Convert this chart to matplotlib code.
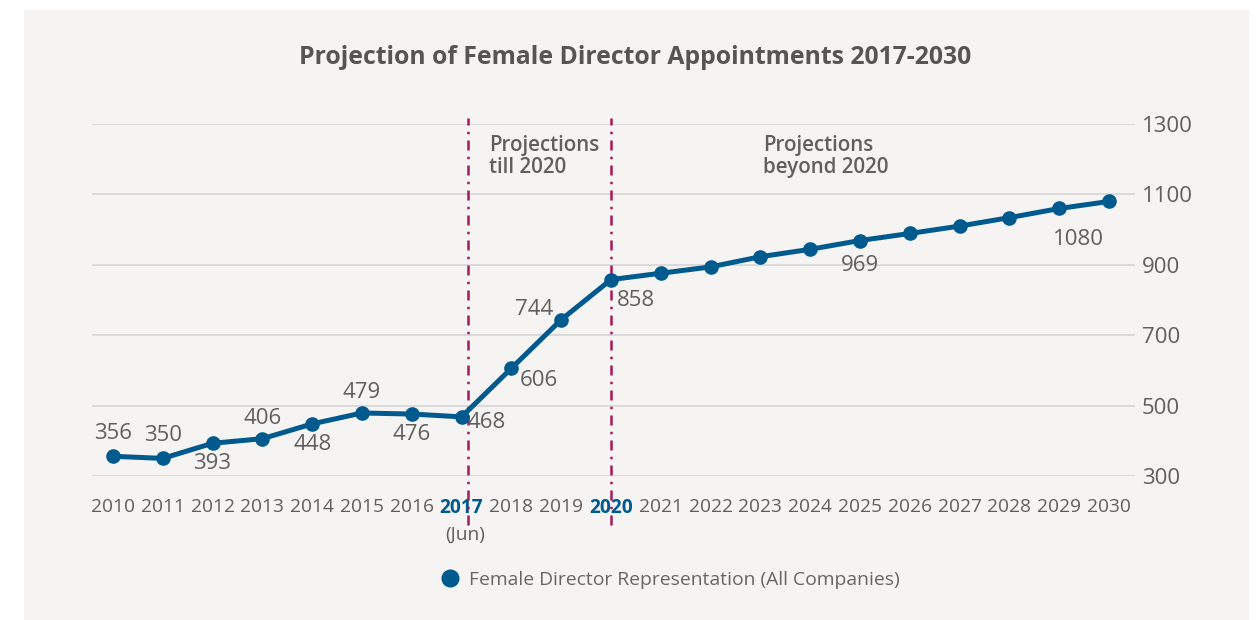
import numpy as np
import matplotlib.pyplot as plt
from matplotlib.patches import Rectangle
from matplotlib.lines import Line2D

plt.rcParams['font.family'] = ['Open Sans', 'DejaVu Sans']

years = [str(y) for y in range(2010, 2031)]
values = [356, 350, 393, 406, 448, 479, 476, 468, 606, 744, 858,
          876, 894, 923, 944, 969, 989, 1010, 1034, 1060, 1080]
yticks = [300, 500, 700, 900, 1100, 1300]

# which points get a label, and where (dx, dy in px, ha, va)
labels = {
    2010: (0, 12, 'center', 'bottom'),
    2011: (0, 12, 'center', 'bottom'),
    2012: (0, -10, 'center', 'top'),
    2013: (0, 10, 'center', 'bottom'),
    2014: (0, -10, 'center', 'top'),
    2015: (0, 10, 'center', 'bottom'),
    2016: (0, -10, 'center', 'top'),
    2017: (6, -6, 'left', 'center'),
    2018: (8, -2, 'left', 'top'),
    2019: (-8, 0, 'right', 'bottom'),
    2020: (6, -10, 'left', 'top'),
    2025: (0, -14, 'center', 'top'),
    2030: (-5, -28, 'right', 'top'),
}

BG = '#f5f4f2'
BLUE = '#005a8e'
MAG = '#a3195b'
TXT = '#5f5f5f'

fig = plt.figure(figsize=(12.58, 6.2), dpi=100)
fig.patches.append(Rectangle((24 / 1258, 0), (1249 - 24) / 1258, (620 - 10) / 620,
                             transform=fig.transFigure, facecolor=BG,
                             edgecolor='none', zorder=-5))

ax = fig.add_axes([92 / 1258, 1 - 476 / 620, (1135 - 92) / 1258, (476 - 124) / 620])
ax.set_facecolor('none')
ax.set_zorder(1)

x = np.arange(len(years))
ax.plot(x, values, color=BLUE, lw=3.6, marker='o', ms=9.5, zorder=3, clip_on=False)

for i, v in enumerate(values):
    yr = 2010 + i
    if yr in labels:
        dx, dy, ha, va = labels[yr]
        ax.annotate(str(v), (i, v), xytext=(dx, dy), textcoords='offset pixels',
                    ha=ha, va=va, fontsize=16, color=TXT)

for xv in [7.12, 10]:
    ax.axvline(xv, ymin=-0.14, ymax=1.017, color=MAG, lw=1.8,
               ls=(0, (4, 2.5, 1, 2.5)), clip_on=False, zorder=2)

ax.text(7.55, 1270, 'Projections\ntill 2020', fontsize=14.8, color=TXT,
        fontweight='semibold', va='top', ha='left', linespacing=1.1)
ax.text(13.05, 1270, 'Projections\nbeyond 2020', fontsize=14.8, color=TXT,
        fontweight='semibold', va='top', ha='left', linespacing=1.1)

ax.set_xlim(-0.42, 20.52)
ax.set_ylim(300, 1300)
ax.set_yticks(yticks)
ax.yaxis.tick_right()
ax.grid(axis='y', color='#d8d8d8', lw=1.3)
ax.set_axisbelow(True)
for s in ax.spines.values():
    s.set_visible(False)
ax.tick_params(axis='y', length=0, pad=5, labelsize=16, labelcolor=TXT)
ax.set_xticks(x)
ax.set_xticklabels(years)
ax.tick_params(axis='x', length=0, pad=16, labelsize=13.8, labelcolor=TXT)
for lab in ax.get_xticklabels():
    if lab.get_text() in ('2017', '2020'):
        lab.set_fontweight('bold')
        lab.set_color(BLUE)
ax.annotate('(Jun)', (7, 300), xytext=(4, -50), textcoords='offset pixels',
            ha='center', va='top', fontsize=13.8, color=TXT, annotation_clip=False)

fig.text(0.505, 1 - 58 / 620, 'Projection of Female Director Appointments 2017-2030',
         ha='center', va='center', fontsize=17.8, fontweight='bold', color='#555555')

h = Line2D([], [], color=BLUE, marker='o', ms=12, ls='none')
fig.legend([h], ['Female Director Representation (All Companies)'],
           loc='center', bbox_to_anchor=(0.532, 1 - 580 / 620), frameon=False,
           fontsize=13.9, labelcolor='#666666', handletextpad=0.4, handlelength=1.2)

fig.savefig('out.png', dpi=100, facecolor='white')
